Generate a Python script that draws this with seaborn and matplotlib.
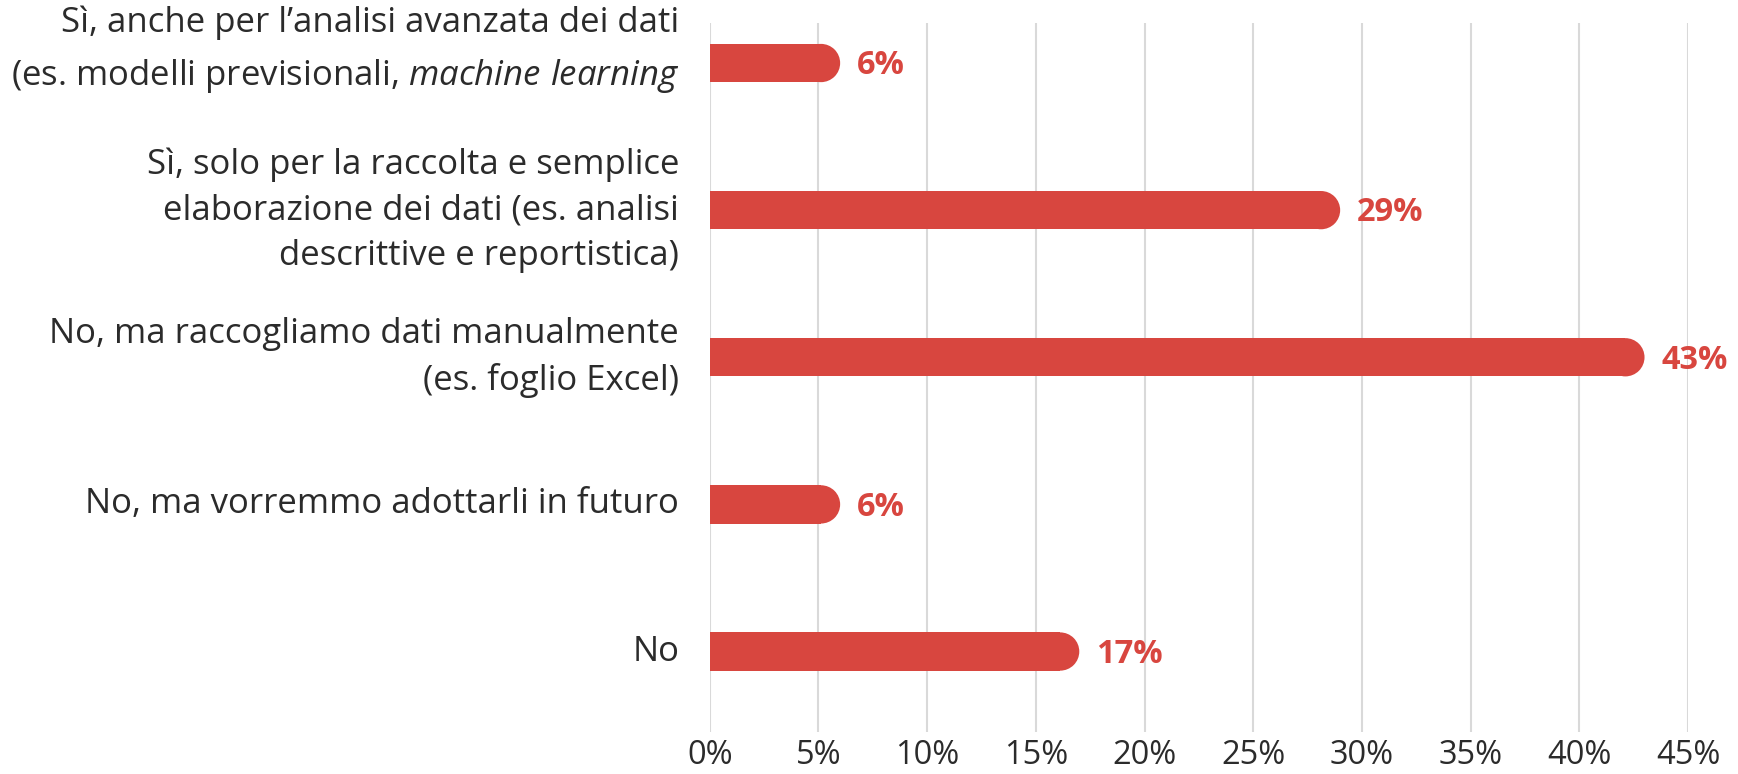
import numpy as np
import pandas as pd
import matplotlib
matplotlib.use("Agg")
import matplotlib.pyplot as plt
import matplotlib.transforms as mtransforms
import seaborn as sns
from matplotlib.patches import Ellipse

# Survey answers (top to bottom) and their shares in percent
categories = [
    "Sì, anche per l’analisi avanzata dei dati\n(es. modelli previsionali, $\\it{machine\\ learning}$",
    "Sì, solo per la raccolta e semplice\nelaborazione dei dati (es. analisi\ndescrittive e reportistica)",
    "No, ma raccogliamo dati manualmente\n(es. foglio Excel)",
    "No, ma vorremmo adottarli in futuro",
    "No",
]
values = [6, 29, 43, 6, 17]
x_ticks = [0, 5, 10, 15, 20, 25, 30, 35, 40, 45]
x_tick_labels = [f"{t}%" for t in x_ticks]

RED = "#d8463f"
TEXT = "#2b2b2b"
GRID = "#d9d9d9"

sns.set_theme(style="white")
plt.rcParams["font.family"] = ["Open Sans", "DejaVu Sans"]
plt.rcParams["mathtext.fontset"] = "custom"
plt.rcParams["mathtext.rm"] = "Open Sans"
plt.rcParams["mathtext.it"] = "Open Sans:italic"

W, H = 1738, 774
fig = plt.figure(figsize=(W / 100, H / 100), dpi=100)
left_px, right_px, top_px, bottom_px = 709.7, 1688, 23, 732
ax = fig.add_axes([left_px / W, 1 - bottom_px / H,
                   (right_px - left_px) / W, (bottom_px - top_px) / H])

df = pd.DataFrame({"answer": categories, "share": values})
sns.barplot(data=df, x="share", y="answer", orient="h", color=RED,
            saturation=1, width=0.26, ax=ax, zorder=3)

ax.set_xlim(0, 45)
ax.set_ylim(4.547, -0.272)
ax.set_xticks(x_ticks)
ax.set_xticklabels(x_tick_labels)
ax.set_xlabel("")
ax.set_ylabel("")

for s in ax.spines.values():
    s.set_visible(False)
ax.xaxis.grid(True, color=GRID, linewidth=1.5, zorder=0)
ax.yaxis.grid(False)
ax.set_axisbelow(True)

ax.tick_params(axis="x", length=0, labelsize=23.5, labelcolor=TEXT, pad=5)
ax.tick_params(axis="y", length=0, labelsize=25, labelcolor=TEXT, pad=22)
for i, t in enumerate(ax.get_yticklabels()):
    t.set_verticalalignment("center")
    t.set_linespacing(1.44)
    if i == 0:
        # first answer sits a little higher, with more room between its lines
        t.set_linespacing(1.6)
        t.set_transform(t.get_transform() + mtransforms.ScaledTranslation(
            0, 9 / 72, fig.dpi_scale_trans))

# Round the right end of each bar with a half-ellipse that looks circular on screen
px_x = ax.transData.transform((1, 0))[0] - ax.transData.transform((0, 0))[0]
px_y = abs(ax.transData.transform((0, 1))[1] - ax.transData.transform((0, 0))[1])
for p in list(ax.patches):
    w, y0, h = p.get_width(), p.get_y(), p.get_height()
    rx = (h * px_y / 2) / px_x
    p.set_width(w - rx)
    p.set_edgecolor("none")
    ax.add_patch(Ellipse((w - rx, y0 + h / 2), 2 * rx, h, facecolor=RED,
                         edgecolor="none", zorder=3))

# Value labels
for i, v in enumerate(values):
    ax.annotate(f"{v}%", xy=(v, i), xytext=(12, -2), textcoords="offset points",
                ha="left", va="center", fontsize=23.5, fontweight="bold",
                color=RED, annotation_clip=False)

fig.savefig("out.png", dpi=100, facecolor="white")
